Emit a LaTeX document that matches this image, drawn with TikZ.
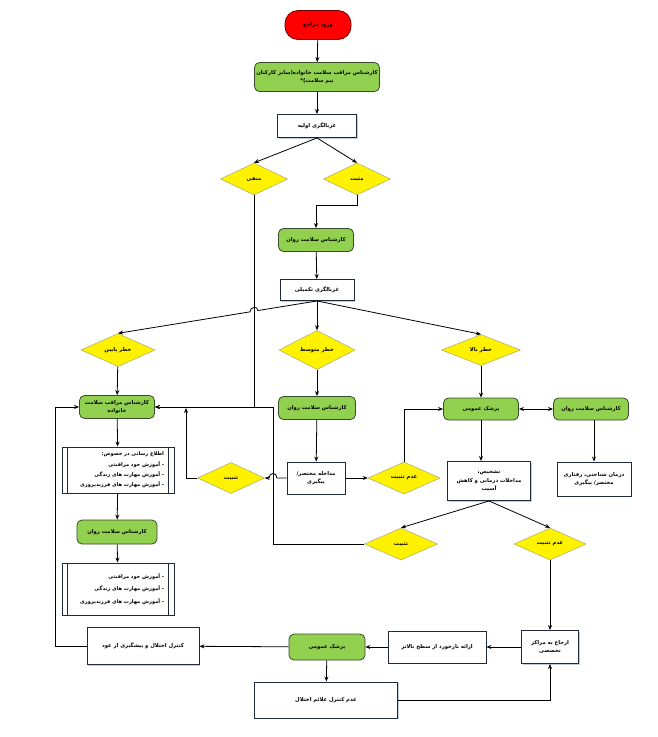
\documentclass[tikz,border=0pt]{standalone}
\usepackage{fontspec}
\newfontfamily\arabicfont[Script=Arabic]{DejaVu Sans}
\TeXXeTstate=1
\usetikzlibrary{shapes.geometric,arrows.meta,shadows,calc}
\newcommand\prs[1]{\beginR #1\endR}
\definecolor{gfill}{HTML}{92D050}
\definecolor{gdraw}{HTML}{3A4A2A}
\definecolor{navy}{HTML}{1F2A3F}
\definecolor{shadowc}{HTML}{B9C6D8}
\definecolor{ydraw}{HTML}{9A9A70}
\tikzset{
  base/.style={font=\arabicfont\bfseries\fontsize{5.3}{8.5}\selectfont, inner sep=1pt, align=center},
  greenbox/.style={base, rectangle, rounded corners=5pt, fill=gfill, draw=gdraw, line width=0.8pt},
  whitebox/.style={base, rectangle, fill=white, draw=navy, line width=0.9pt,
     drop shadow={shadow xshift=1.3pt,shadow yshift=-1.3pt,fill=shadowc,opacity=0.9}},
  listbox/.style={whitebox, align=right, text width=92pt},
  decision/.style={base, diamond, fill=yellow, draw=ydraw, line width=0.4pt, inner sep=0pt},
  term/.style={base, rectangle, rounded corners=13pt, fill=red, draw=red!45!black, line width=0.8pt},
  line/.style={line width=0.8pt, draw=black},
  arr/.style={line, -{Stealth[length=5pt,width=4pt]}},
  darr/.style={line, {Stealth[length=5pt,width=4pt]}-{Stealth[length=5pt,width=4pt]}}
}
\begin{document}
\begin{tikzpicture}[x=1pt,y=-1pt]
\useasboundingbox (0,0) rectangle (657,737);
% top
\node[term, minimum width=66pt, minimum height=29pt] (start) at (318,25) {\prs{ورود مراجع}};
\node[greenbox, minimum width=125pt, minimum height=29pt] (g1) at (317,77) {\prs{کارشناس مراقب سلامت خانواده(سایر کارکنان}\\\prs{تیم سلامت)*}};
\node[whitebox, minimum width=79pt, minimum height=23pt] (b1) at (317,126) {\prs{غربالگری اولیه}};
\node[decision, minimum width=67pt, minimum height=32pt] (dneg) at (254,179) {\prs{منفی}};
\node[decision, minimum width=67pt, minimum height=32pt] (dpos) at (357,179) {\prs{مثبت}};
\node[greenbox, minimum width=75pt, minimum height=23pt] (g2) at (316,240) {\prs{کارشناس سلامت روان}};
\node[whitebox, minimum width=74pt, minimum height=21pt] (b2) at (317,290) {\prs{غربالگری تکمیلی}};
% risk diamonds
\node[decision, minimum width=74pt, minimum height=33pt] (dlow) at (118,350) {\prs{خطر پایین}};
\node[decision, minimum width=76pt, minimum height=33pt] (dmid) at (317,350) {\prs{خطر متوسط}};
\node[decision, minimum width=79pt, minimum height=31pt] (dhigh) at (481,350) {\prs{خطر بالا}};
% row of green boxes
\node[greenbox, minimum width=75pt, minimum height=23pt] (g3) at (117,407) {\prs{کارشناس مراقب سلامت}\\\prs{خانواده}};
\node[greenbox, minimum width=77pt, minimum height=23pt] (g4) at (317,408) {\prs{کارشناس سلامت روان}};
\node[greenbox, minimum width=75pt, minimum height=22pt] (g5) at (481,409) {\prs{پزشک عمومی}};
\node[greenbox, minimum width=75pt, minimum height=22pt] (g6) at (591,409) {\prs{کارشناس سلامت روان}};
% middle row
\node[whitebox, minimum width=58pt, minimum height=32pt] (b3) at (316,478) {\prs{مداخله مختصر/}\\\prs{پیگیری}};
\node[decision, minimum width=72pt, minimum height=32pt] (dunst1) at (404,478) {\prs{عدم تثبیت}};
\node[decision, minimum width=67pt, minimum height=31pt] (dst1) at (231,478) {\prs{تثبیت}};
\node[whitebox, minimum width=83pt, minimum height=39pt] (b4) at (489,481) {\prs{تشخیص،}\\\prs{مداخلات درمانی و کاهش}\\\prs{آسیب}};
\node[whitebox, minimum width=74pt, minimum height=34pt] (b5) at (594,479) {\prs{درمان شناختی، رفتاری}\\\prs{مختصر/ پیگیری}};
\node[decision, minimum width=73pt, minimum height=32pt] (dst2) at (401,544) {\prs{تثبیت}};
\node[decision, minimum width=72pt, minimum height=32pt] (dunst2) at (550,544) {\prs{عدم تثبیت}};
% left column
\node[listbox, minimum width=112pt, minimum height=46pt, font=\arabicfont\bfseries\fontsize{5.1}{10.3}\selectfont] (L1) at (118,470) {\prs{اطلاع رسانی در خصوص:}\\\prs{- آموزش خود مراقبتی}\\\prs{- آموزش مهارت های زندگی}\\\prs{- آموزش مهارت های فرزندپروری}};
\node[greenbox, minimum width=80pt, minimum height=24pt] (g7) at (117,532) {\prs{کارشناس سلامت روان}};
\node[listbox, minimum width=112pt, minimum height=52pt, font=\arabicfont\bfseries\fontsize{5.1}{12.5}\selectfont] (L2) at (118,589) {\prs{- آموزش خود مراقبتی}\\\prs{- آموزش مهارت های زندگی}\\\prs{- آموزش مهارت های فرزندپروری}};
\foreach \n in {L1,L2}{
  \draw[navy, line width=0.9pt] ($(\n.north west)+(6,0)$) -- ($(\n.south west)+(6,0)$);
  \draw[navy, line width=0.9pt] ($(\n.north east)+(-6,0)$) -- ($(\n.south east)+(-6,0)$);
}
% bottom row
\node[whitebox, minimum width=112pt, minimum height=37pt] (b6) at (143,646) {\prs{کنترل اختلال و پیشگیری از عود}};
\node[greenbox, minimum width=76pt, minimum height=26pt] (g8) at (327,647) {\prs{پزشک عمومی}};
\node[whitebox, minimum width=98pt, minimum height=32pt] (b7) at (437,647) {\prs{ارائه بازخورد از سطح بالاتر}};
\node[whitebox, minimum width=57pt, minimum height=33pt] (b8) at (550,647) {\prs{ارجاع به مراکز}\\\prs{تخصصی}};
\node[whitebox, minimum width=143pt, minimum height=36pt] (b9) at (326,700) {\prs{عدم کنترل علائم اختلال}};
% routing coordinates
\coordinate (rt) at (273,544);
\coordinate (j1) at (186,408);
\coordinate (fl) at (55,646);
% connectors
\draw[arr] (start) -- (g1);
\draw[arr] (g1) -- (b1);
\draw[arr] (b1.south) -- (dneg.north);
\draw[arr] (b1.south) -- (dpos.north);
\draw[arr] (dpos.south) -- ++(0,10) -| (g2.north);
\draw[arr] (g2) -- (b2);
\draw[arr] (b2.south) -- ($(b2.south)!0.297!(dlow.north)$) .. controls +(0,-5) and +(0,-5) .. ($(b2.south)!0.337!(dlow.north)$) -- (dlow.north);
\draw[arr] (b2.south) -- (dmid.north);
\draw[arr] (b2.south) -- (dhigh.north);
\draw[arr] (dneg.south) |- (g3.east);
\draw[arr] (dlow) -- (g3);
\draw[arr] (dst2.west) -- (rt) |- (g3.east);
\draw[arr] (dst1.west) -| (j1);
\draw[arr] (b6.west) -- (fl) |- (g3.west);
\draw[arr] (g3) -- (L1);
\draw[arr] (L1) -- (g7);
\draw[arr] (g7) -- (L2);
\draw[arr] (dmid) -- (g4);
\draw[arr] (g4) -- (b3);
\draw[arr] (b3) -- (dunst1);
\draw[arr] (b3.west) -- ($(rt |- b3.west)+(4,0)$) .. controls +(0,-6) and +(0,-6) .. ($(rt |- b3.west)+(-4,0)$) -- (dst1.east);
\draw[arr] (dunst1.north) |- (g5.west);
\draw[arr] (dhigh) -- (g5);
\draw[darr] (g5) -- (g6);
\draw[arr] (b5.north |- g6.south) -- (b5.north);
\draw[arr] (g5.south) -- (g5.south |- b4.north);
\draw[arr] (b4.south) -- (dst2.north);
\draw[arr] (b4.south) -- (dunst2.north);
\draw[arr] (dunst2) -- (b8);
\draw[arr] (b8) -- (b7);
\draw[arr] (b7) -- (g8);
\draw[arr] (g8) -- (b6);
\draw[arr] (g8) -- (b9);
\draw[arr] (b9.east) -| (b8.south);
\end{tikzpicture}
\end{document}
